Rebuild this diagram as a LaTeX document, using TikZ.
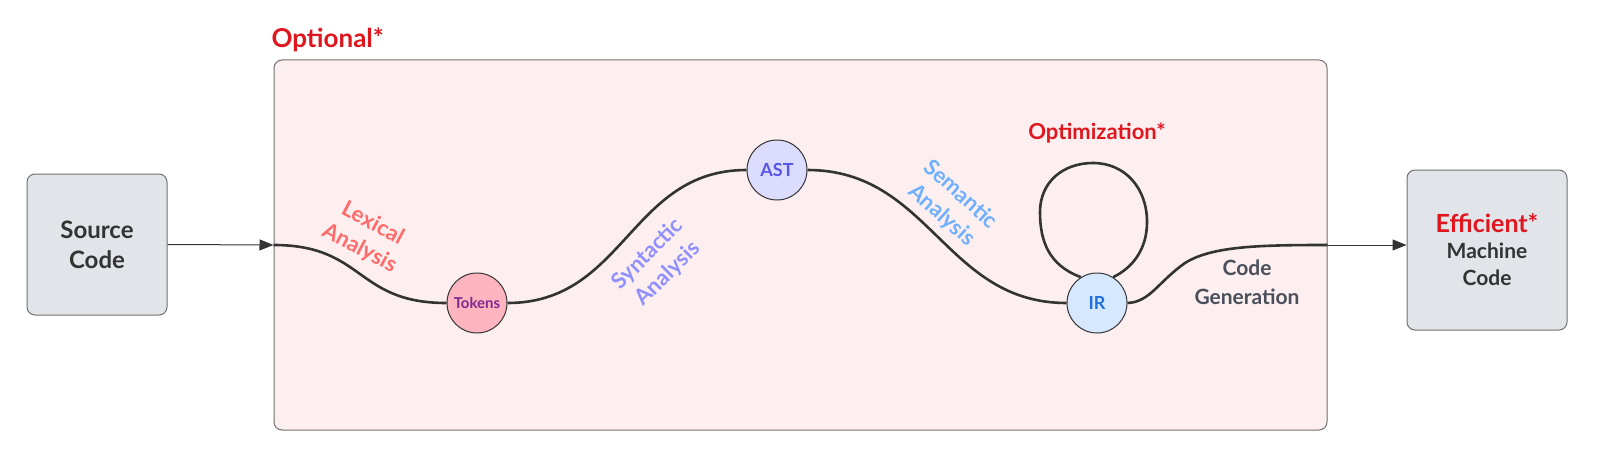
\documentclass[tikz,border=0pt]{standalone}
\usepackage{fontspec}
\setmainfont{Lato}
\usetikzlibrary{arrows.meta}

\definecolor{optred}{HTML}{E0161E}
\definecolor{boxgray}{HTML}{E1E4E8}
\definecolor{edgegray}{HTML}{707070}
\definecolor{framepink}{HTML}{FDEFEF}
\definecolor{lexcol}{HTML}{FF6B6B}
\definecolor{syncol}{HTML}{8F8FFF}
\definecolor{semcol}{HTML}{6EB0FF}
\definecolor{gencol}{HTML}{4A4F5B}
\definecolor{inkdark}{HTML}{333333}
\definecolor{tokfill}{HTML}{FFB5C0}
\definecolor{toktext}{HTML}{7A2A8A}
\definecolor{astfill}{HTML}{DCDCFF}
\definecolor{asttext}{HTML}{5757E6}
\definecolor{irfill}{HTML}{D5E8FF}
\definecolor{irtext}{HTML}{1E6FE0}

\tikzset{
  endbox/.style={draw=edgegray, line width=1pt, fill=boxgray, rounded corners=8pt,
    align=center, text=inkdark, font=\bfseries\fontsize{24}{30}\selectfont},
  stage/.style={circle, draw=inkdark, line width=1pt, minimum size=60pt, inner sep=0pt,
    font=\bfseries},
  phase/.style={align=center, font=\bfseries\fontsize{22}{28}\selectfont},
  path/.style={line width=2.6pt, draw=inkdark},
  feed/.style={line width=1pt, draw=inkdark, -{Triangle[length=14pt,width=11pt]}}
}

\begin{document}
\begin{tikzpicture}[x=1pt,y=-1pt]
\useasboundingbox (0,0) rectangle (1597,476);

% frame
\node [draw=edgegray, line width=1pt, fill=framepink, rounded corners=8pt,
  minimum width=1053pt, minimum height=370pt, inner sep=0pt] (frame) at (800.5,245) {};
\node [anchor=base west, text=optred, font=\bfseries\fontsize{26}{30}\selectfont]
  (optional) at (268,48) {Optional*};

% ends
\node [endbox, minimum width=140pt, minimum height=141pt] (source) at (97,244.5) {Source\\Code};
\node [endbox, minimum width=160pt, minimum height=160pt, font=\bfseries\fontsize{21}{27}\selectfont]
  (machine) at (1487,250)
  {{\color{optred}\fontsize{25}{31}\selectfont Efficient*}\\[-1pt]Machine\\Code};

% stages
\node [stage, fill=tokfill, text=toktext, font=\bfseries\fontsize{15}{18}\selectfont]
  (tokens) at (477,303) {Tokens};
\node [stage, fill=astfill, text=asttext, font=\bfseries\fontsize{18}{20}\selectfont]
  (ast) at (777,170) {AST};
\node [stage, fill=irfill, text=irtext, font=\bfseries\fontsize{18}{20}\selectfont]
  (ir) at (1097,303) {IR};

\coordinate (pathin) at (frame.west);
\coordinate (pathout) at (frame.east);

% main curve
\draw [path] (pathin) .. controls (365,245) and (355,303) .. (tokens.west);
\draw [path] (tokens.east) .. controls (625,303) and (630,170) .. (ast.west);
\draw [path] (ast.east) .. controls (930,170) and (945,303) .. (ir.west);
\draw [path] (ir.east) .. controls (1150,302) and (1158,282) .. (1185,263)
  .. controls (1212,246) and (1260,245) .. (pathout);
% loop
\draw [path] (ir.122) .. controls (1048,265) and (1040,240) .. (1040,212)
  .. controls (1040,182) and (1063,163) .. (1093,163)
  .. controls (1125,163) and (1147,188) .. (1147,222)
  .. controls (1147,250) and (1132,268) .. (ir.58);

% feeds
\draw [feed] (source.east) -- (pathin);
\draw [feed] (pathout) -- (pathout -| machine.west);

% labels
\node [phase, text=lexcol, rotate=-28] (lexical) at (366,236) {Lexical\\Analysis};
\node [phase, text=syncol, rotate=45] (syntactic) at (658,264) {Syntactic\\Analysis};
\node [phase, text=semcol, rotate=-42] (semantic) at (951,205) {Semantic\\Analysis};
\node [phase, text=optred] (optim) at (1097,133) {Optimization*};
\node [phase, text=gencol, font=\bfseries\fontsize{21}{29}\selectfont] (codegen) at (1247,282) {Code\\Generation};

\end{tikzpicture}
\end{document}
